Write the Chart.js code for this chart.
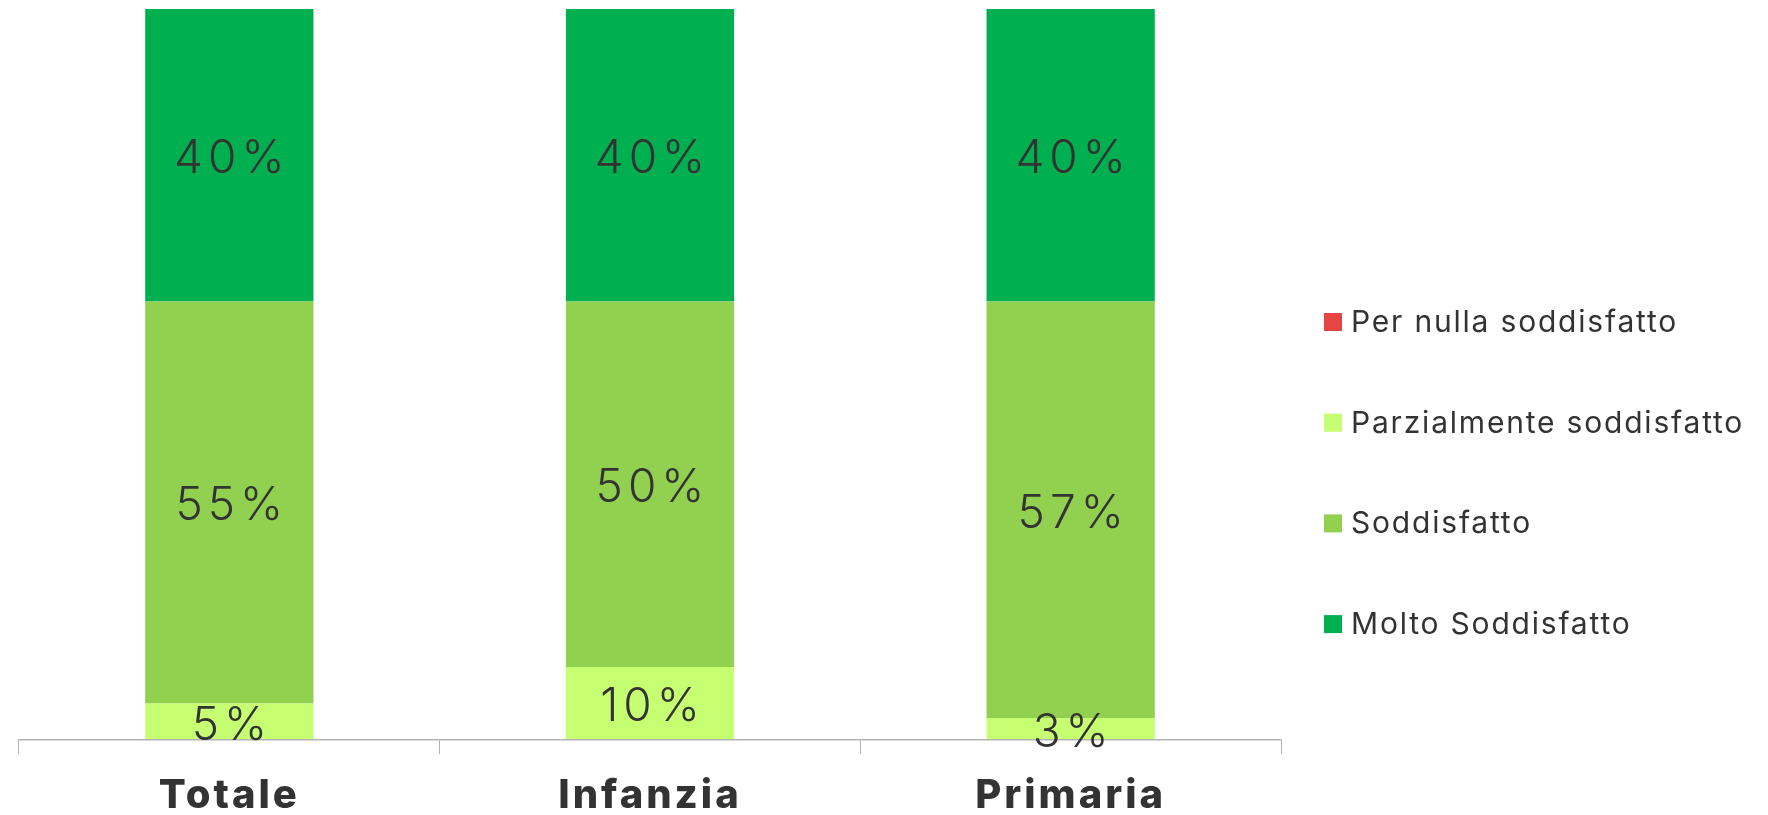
<!DOCTYPE html>
<html lang="it">
<head>
<meta charset="utf-8">
<title>Soddisfazione</title>
<script src="https://cdn.jsdelivr.net/npm/chart.js@4.4.1/dist/chart.umd.min.js"></script>
<style>
  html, body { margin: 0; padding: 0; background: #fff; }
  #wrap { width: 1768px; height: 815px; position: relative; }
</style>
</head>
<body>
<div id="wrap"><canvas id="chart"></canvas></div>
<script>
const CATEGORIES = ["Totale", "Infanzia", "Primaria"];

const SERIES_NAMES = [
  "Per nulla soddisfatto",
  "Parzialmente soddisfatto",
  "Soddisfatto",
  "Molto Soddisfatto",
];

const PER_NULLA = [0, 0, 0];
const PARZIALMENTE = [5, 10, 3];
const SODDISFATTO = [55, 50, 57];
const MOLTO = [40, 40, 40];

const SERIES_COLORS = ["#E64545", "#C6FF72", "#92D050", "#00B050"];

const TEXT_COLOR = "#333333";
const FONT = "Inter, 'Open Sans', sans-serif";

function $(id) {
  return document.getElementById(id);
}

// widen the category labels a little: the x ticks (z: 1) are drawn
// right after the datasets, so spacing set here only reaches their text
const tickSpacing = {
  id: "tickSpacing",
  afterDatasetsDraw(chart) {
    chart.ctx.letterSpacing = "3px";
  },
  afterDraw(chart) {
    chart.ctx.letterSpacing = "0px";
  },
};

// percentage labels centred in each stacked segment
const valueLabels = {
  id: "valueLabels",
  afterDraw(chart) {
    const ctx = chart.ctx;
    const spacing = 5;
    ctx.save();
    ctx.letterSpacing = `${spacing}px`;
    ctx.font = `300 46px ${FONT}`;
    ctx.fillStyle = TEXT_COLOR;
    ctx.textAlign = "center";
    ctx.textBaseline = "middle";
    chart.data.datasets.forEach((ds, i) => {
      const meta = chart.getDatasetMeta(i);
      meta.data.forEach((bar, j) => {
        const v = ds.data[j];
        if (!v) return;
        const y = (bar.y + bar.base) / 2;
        ctx.fillText(`${v}%`, bar.x + spacing / 2, y + 4);
      });
    });
    ctx.restore();
  },
};

// vertical legend on the right, one row per series
const sideLegend = {
  id: "sideLegend",
  afterDraw(chart) {
    const ctx = chart.ctx;
    const left = chart.chartArea.right + 43;
    const top = 322;
    const step = 100.7;
    const box = 18;
    ctx.save();
    ctx.letterSpacing = "1.8px";
    ctx.font = `400 30px ${FONT}`;
    ctx.textAlign = "left";
    ctx.textBaseline = "middle";
    chart.data.datasets.forEach((ds, i) => {
      const y = top + i * step;
      ctx.fillStyle = ds.backgroundColor;
      ctx.fillRect(left, y - box / 2, box, box);
      ctx.fillStyle = TEXT_COLOR;
      ctx.fillText(ds.label, left + box + 9, y + 1);
    });
    ctx.restore();
  },
};

function buildDatasets() {
  const values = [PER_NULLA, PARZIALMENTE, SODDISFATTO, MOLTO];
  return values.map((data, i) => ({
    label: SERIES_NAMES[i],
    data: data,
    backgroundColor: SERIES_COLORS[i],
    borderWidth: 0,
    categoryPercentage: 1,
    barPercentage: 0.4,
  }));
}

new Chart($("chart"), {
  type: "bar",
  data: {
    labels: CATEGORIES,
    datasets: buildDatasets(),
  },
  options: {
    responsive: true,
    maintainAspectRatio: false,
    animation: false,
    devicePixelRatio: 1,
    layout: {
      padding: { left: 19, right: 487, top: 9, bottom: 0 },
    },
    plugins: {
      legend: { display: false },
      tooltip: { enabled: false },
    },
    scales: {
      x: {
        stacked: true,
        afterFit(scale) {
          scale.height = 75;
        },
        grid: {
          offset: true,
          drawOnChartArea: false,
          drawTicks: true,
          tickLength: 14,
          color: "#b3b3b3",
          z: 1,
        },
        border: { color: "#b3b3b3", width: 1.5, z: 1 },
        ticks: {
          color: TEXT_COLOR,
          padding: 18,
          z: 1,
          font: { family: FONT, size: 40, weight: 800 },
        },
      },
      y: {
        stacked: true,
        display: false,
        min: 0,
        max: 100,
      },
    },
  },
  plugins: [tickSpacing, valueLabels, sideLegend],
});
</script>
</body>
</html>
